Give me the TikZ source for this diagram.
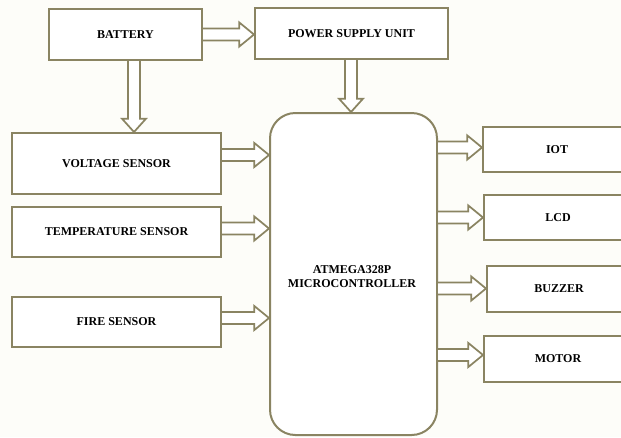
\documentclass[tikz,border=0pt]{standalone}
\usepackage{fontspec}
\setmainfont{Liberation Serif}
\usetikzlibrary{calc}
\definecolor{linecol}{RGB}{138,132,98}
\definecolor{bgcol}{RGB}{253,253,249}
\tikzset{
  box/.style={draw=linecol, line width=1.5pt, fill=white, minimum width=#1, inner sep=0pt, font=\bfseries\fontsize{9}{10}\selectfont, text=black},
  blockarr/.style={draw=linecol, line width=1.3pt, fill=white, line join=miter},
}
% horizontal block arrow: #1 start point, #2 tip point (same y)
\newcommand{\harrow}[2]{%
  \draw[blockarr] let \p1=(#1), \p2=(#2) in
    (\x1,\y1+4.5pt) -- (\x2-11pt,\y1+4.5pt) -- (\x2-11pt,\y1+9pt) -- (\x2,\y1)
    -- (\x2-11pt,\y1-9pt) -- (\x2-11pt,\y1-4.5pt) -- (\x1,\y1-4.5pt);}
% vertical (downward) block arrow: #1 start point, #2 tip point (same x)
\newcommand{\varrow}[2]{%
  \draw[blockarr] let \p1=(#1), \p2=(#2) in
    (\x1-4.5pt,\y1) -- (\x1-4.5pt,\y2+10pt) -- (\x1-9pt,\y2+10pt) -- (\x1,\y2)
    -- (\x1+9pt,\y2+10pt) -- (\x1+4.5pt,\y2+10pt) -- (\x1+4.5pt,\y1);}
\begin{document}
\begin{tikzpicture}[x=0.75pt,y=-0.75pt]
\fill[bgcol] (0,0) rectangle (621,437);
\useasboundingbox (0,0) rectangle (621,437);

% boxes
\node[box=153*0.75pt, minimum height=51*0.75pt] (bat) at (125.5,34.5) {BATTERY};
\node[box=193*0.75pt, minimum height=51*0.75pt] (psu) at (351.5,33.5) {POWER SUPPLY UNIT};
\node[box=209*0.75pt, minimum height=61*0.75pt] (volt) at (116.5,163.5) {VOLTAGE SENSOR};
\node[box=209*0.75pt, minimum height=50*0.75pt] (temp) at (116.5,232) {TEMPERATURE SENSOR};
\node[box=209*0.75pt, minimum height=50*0.75pt] (fire) at (116.5,322) {FIRE SENSOR};
\node[box=167*0.75pt, minimum height=322*0.75pt, rounded corners=19pt] (mcu) at (353.5,274) {};
\node[font=\bfseries\fontsize{9}{10.5}\selectfont, align=center, inner sep=0pt] (mcutext) at (352,277)
  {ATMEGA328P\\MICROCONTROLLER};
\node[box=148*0.75pt, minimum height=45*0.75pt] (iot) at (557,149.5) {IOT};
\node[box=148*0.75pt, minimum height=45*0.75pt] (lcd) at (558,217.5) {LCD};
\node[box=144*0.75pt, minimum height=46*0.75pt] (buz) at (559,289) {BUZZER};
\node[box=148*0.75pt, minimum height=46*0.75pt] (mot) at (558,359) {MOTOR};

% arrow anchor coordinates
\coordinate (a1s) at (bat.east |- 0,34.5);
\coordinate (a1e) at (psu.west |- 0,34.5);
\coordinate (a2s) at (134,60);
\coordinate (a2e) at (a2s |- volt.north);
\coordinate (a3s) at (351,59);
\coordinate (a3e) at (a3s |- mcu.north);

\harrow{a1s}{a1e}
\varrow{bat.south -| a2s}{a2e}
\varrow{psu.south -| a3s}{a3e}

\harrow{volt.east |- 0,155}{mcu.west |- 0,155}
\harrow{temp.east |- 0,228.5}{mcu.west |- 0,228.5}
\harrow{fire.east |- 0,318}{mcu.west |- 0,318}

\harrow{mcu.east |- 0,147.5}{iot.west |- 0,147.5}
\harrow{mcu.east |- 0,217.5}{lcd.west |- 0,217.5}
\harrow{mcu.east |- 0,288.5}{buz.west |- 0,288.5}
\harrow{mcu.east |- 0,355}{mot.west |- 0,355}
\end{tikzpicture}
\end{document}
